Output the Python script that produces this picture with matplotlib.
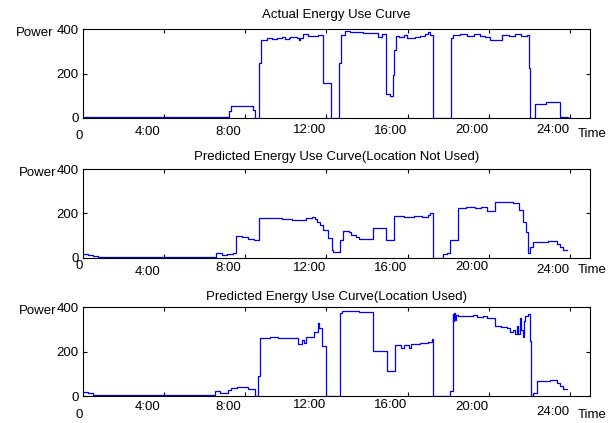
import matplotlib
matplotlib.use("Agg")
import matplotlib.pyplot as plt

plt.rcParams["font.family"] = ["Liberation Sans", "DejaVu Sans"]

# hours of the day and power readings, drawn as steps
actual_t = [0, 7.22, 7.3, 8.37, 8.47, 8.7, 8.78, 9.1, 9.3, 9.55, 9.8, 9.95, 10.15, 10.2, 10.55,
            10.66, 10.72, 10.87, 11.1, 11.4, 11.6, 11.85, 12.25, 12.64, 12.7, 12.9, 13.16, 13.48,
            13.81, 14.4, 14.56, 14.73, 14.94, 15.14, 15.27, 15.34, 15.44, 15.6, 15.8, 15.96, 16.1,
            16.37, 16.6, 16.85, 17.01, 17.12, 17.23, 18.13, 18.26, 18.59, 18.92, 19.25, 19.58,
            19.82, 20.05, 20.65, 21.0, 21.3, 21.6, 21.9, 22.0, 22.05, 22.3, 22.8, 23.5, 23.9]
actual_v = [3, 30, 53, 35, 0, 246, 352, 362, 358, 360, 366, 356, 360, 365, 362,
            351, 362, 377, 372, 370, 373, 155, 0, 246, 374, 392, 389, 386,
            382, 384, 367, 377, 106, 100, 193, 307, 371, 367, 374, 359, 362,
            367, 371, 377, 386, 374, 0, 359, 374, 377, 371, 377, 371,
            365, 352, 375, 370, 377, 370, 375, 223, 0, 61, 72, 4, 4]

no_loc_t = [0, 0.25, 0.5, 0.77, 6.55, 6.85, 7.1, 7.4, 7.55, 7.85, 8.15, 8.45, 8.7, 9.0, 9.4,
            9.8, 10.3, 10.7, 11.0, 11.3, 11.44, 11.55, 11.7, 11.85, 12.1, 12.27, 12.35, 12.67,
            12.8, 13.1, 13.2, 13.45, 13.6, 14.28, 14.94, 15.33, 15.8, 16.3, 16.7, 17.0, 17.1,
            17.27, 17.76, 17.95, 18.1, 18.5, 18.9, 19.3, 19.6, 19.9, 20.3, 20.8, 21.2, 21.5,
            21.7, 21.85, 21.95, 22.05, 22.2, 22.9, 23.35, 23.5, 23.65, 23.84]
no_loc_v = [15, 11, 7, 4, 23, 12, 17, 23, 100, 95, 86, 80, 178, 181, 178,
            174, 170, 172, 178, 184, 177, 160, 148, 125, 88, 35, 27, 80,
            122, 118, 103, 92, 86, 136, 80, 190, 186, 188, 186, 192, 204,
            0, 15, 23, 80, 226, 231, 226, 229, 213, 253, 250, 248, 216,
            163, 118, 23, 50, 69, 75, 62, 47, 35, 35]

loc_t = [0, 0.25, 0.5, 0.77, 6.52, 6.75, 7.15, 7.3, 7.6, 8.15, 8.5, 8.65, 8.72, 9.2, 9.6,
         10.0, 10.4, 10.6, 10.8, 10.9, 11.0, 11.4, 11.6, 11.66, 11.78, 11.98, 12.69, 12.75,
         13.2, 13.6, 14.32, 14.97, 15.38, 15.7, 15.8, 16.05, 16.15, 16.6, 17.0, 17.2, 17.27,
         18.1, 18.22, 18.26, 18.3, 18.35, 18.4, 18.5, 18.9, 19.24, 19.4, 19.73, 19.9, 20.31,
         20.6, 20.88, 21.05, 21.2, 21.3, 21.38, 21.45, 21.54, 21.6, 21.67, 21.72, 21.8, 21.95,
         22.04, 22.08, 22.17, 22.36, 23.0, 23.35, 23.5, 23.65, 23.84]
loc_v = [18, 13, 8, 4, 22, 13, 30, 37, 40, 33, 0, 90, 262, 265, 262,
         264, 260, 235, 255, 240, 265, 290, 330, 307, 228, 3, 375, 382,
         385, 380, 205, 115, 229, 218, 232, 218, 235, 240, 245, 259, 0,
         25, 372, 340, 375, 345, 365, 360, 362, 367, 357, 362, 352, 315,
         310, 305, 290, 300, 278, 315, 280, 352, 300, 268, 337, 360, 370,
         247, 0, 15, 70, 75, 60, 45, 35, 35]

titles = ["Actual Energy Use Curve",
          "Predicted Energy Use Curve(Location Not Used)",
          "Predicted Energy Use Curve(Location Used)"]
series = [(actual_t, actual_v), (no_loc_t, no_loc_v), (loc_t, loc_v)]

tick_hours = [4, 8, 12, 16, 20, 24]
tick_labels = ["4:00", "8:00", "12:00", "16:00", "20:00", "24:00"]
# how far below the axis each hand-placed label sits (pixels): 0, ticks..., Time
label_drop = [[18, 14, 14, 12, 13, 12, 12, 16],
              [8, 14, 10, 10, 10, 9, 12, 12],
              [19, 11, 11, 9, 9, 11, 16, 19]]

fig = plt.figure(figsize=(6.16, 4.23), dpi=100)
boxes = [(0.1343, 0.7217, 0.824, 0.209),
         (0.1343, 0.3908, 0.824, 0.209),
         (0.1343, 0.0631, 0.824, 0.2104)]
title_pads = [8, 6.5, 5]
power_x = [-0.057, -0.052, -0.052]

for i, ((t, v), title) in enumerate(zip(series, titles)):
    ax = fig.add_axes(boxes[i])
    ax.step(t, v, where="post", color="#0000ff", lw=0.9)
    ax.set_xlim(0, 25)
    ax.set_ylim(0, 400)
    ax.set_yticks([0, 200, 400])
    ax.set_xticks(tick_hours)
    ax.set_xticklabels([])
    ax.tick_params(direction="in", length=3, width=0.8, top=True, right=True,
                   labelsize=9.5, pad=3)
    for s in ax.spines.values():
        s.set_linewidth(0.8)
    ax.set_title(title, fontsize=9.5, pad=title_pads[i])
    ax.text(power_x[i], 0.955, "Power", transform=ax.transAxes, ha="right",
            va="center", fontsize=9.5)

    drops = label_drop[i]
    xs = [-0.18] + [h - 0.83 for h in tick_hours] + [25.1]
    texts = ["0"] + tick_labels + ["Time"]
    for x, txt, d in zip(xs, texts, drops):
        ax.annotate(txt, xy=(x, 0), xycoords=("data", "axes fraction"),
                    xytext=(0, -d * 0.72), textcoords="offset points",
                    ha="center", va="center", fontsize=9.5, annotation_clip=False)

fig.savefig("out.png", dpi=100)
